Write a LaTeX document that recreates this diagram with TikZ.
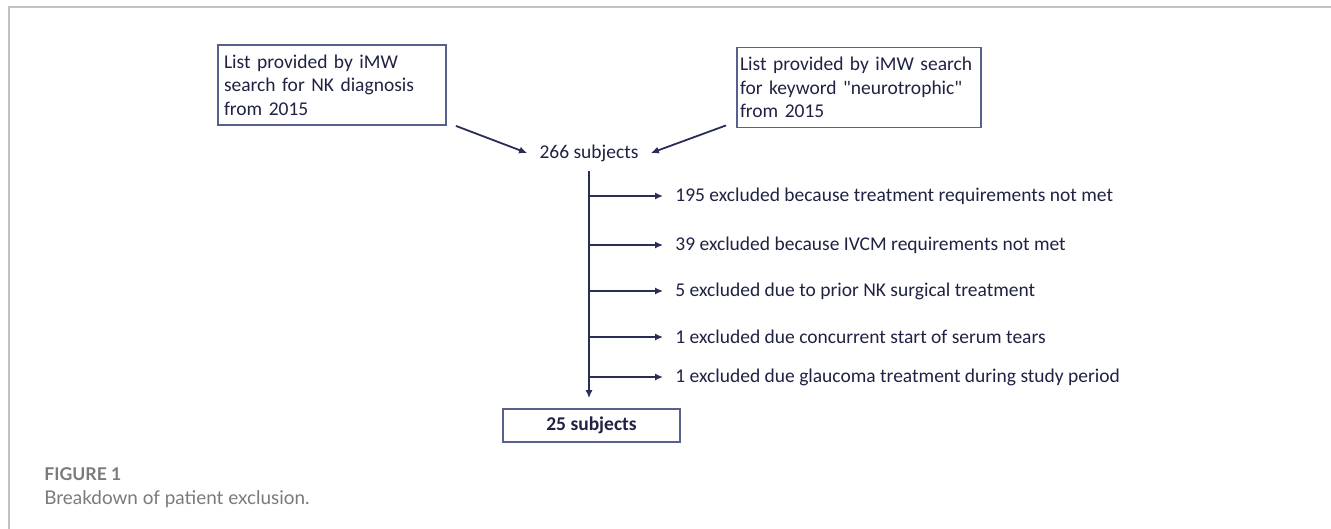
\documentclass[tikz,border=0pt]{standalone}
\usepackage{fontspec}
\setmainfont{Carlito}[Ligatures=TeXOff]
\newfontfamily\capfont{Lato}
\usepackage{tikz}
\usetikzlibrary{arrows.meta}
\definecolor{inkblue}{HTML}{1F2242}
\definecolor{arrowblue}{HTML}{2A2E56}
\definecolor{boxblue}{HTML}{57618C}
\definecolor{framegray}{HTML}{C2C2C2}
\definecolor{capgray}{HTML}{7A7A7A}

\begin{document}
\begin{tikzpicture}[x=0.5pt,y=-0.5pt,>={Latex[length=4pt,width=3.6pt]},
  every node/.style={text=inkblue,font=\fontsize{9.75}{11.75}\selectfont},
  srcbox/.style={draw=boxblue,line width=0.9pt,align=left,minimum height=40pt},
  exclnode/.style={anchor=west,inner xsep=6pt,inner ysep=0pt},
  link/.style={->,draw=arrowblue,line width=0.9pt}]
\useasboundingbox (0,0) rectangle (1331,529);
\draw[framegray,line width=1.2pt] (9,529) -- (9,7) -- (1331,7);
\node[srcbox,inner xsep=3pt,text width=108pt] (srcNK) at (332,85) {List provided by iMW\\search for NK diagnosis\\from 2015};
\node[srcbox,inner xsep=1.5pt,text width=119pt] (srcKw) at (859,87.5) {List provided by iMW search\\for keyword "neurotrophic"\\from 2015};
\node[inner xsep=6pt] (total) at (589,153) {266 subjects};
\node[draw=boxblue,line width=0.9pt,font=\fontsize{9.75}{11.75}\selectfont\bfseries,minimum width=88.5pt,minimum height=16.5pt] (final) at (591.5,425.5) {25 subjects};
\draw[link] ([xshift=4.5pt]srcNK.south east) -- (total.west);
\draw[link] ([xshift=-5pt,yshift=1.5pt]srcKw.south west) -- (total.east);
\coordinate (trunk) at (589,171);
\draw[link,shorten >=5pt] (trunk) -- (trunk |- final.north);
\foreach \y/\txt [count=\i] in {196/195 excluded because treatment requirements not met,
  245/39 excluded because IVCM requirements not met,
  291/5 excluded due to prior NK surgical treatment,
  337/1 excluded due concurrent start of serum tears,
  377/1 excluded due glaucoma treatment during study period}
{
  \coordinate (t\i) at (589,\y);
  \node[exclnode] (excl\i) at (663,\y) {\txt};
  \draw[link] (t\i) -- (excl\i.west);
}
\node[anchor=base west,inner sep=0pt,text=capgray,font=\capfont\bfseries\fontsize{8.8}{10}\selectfont] (figno) at (44,480) {FIGURE 1};
\node[anchor=base west,inner sep=0pt,text=capgray,font=\capfont\fontsize{9.45}{11}\selectfont] (caption) at (44,504) {Breakdown of patient exclusion.};
\end{tikzpicture}
\end{document}
